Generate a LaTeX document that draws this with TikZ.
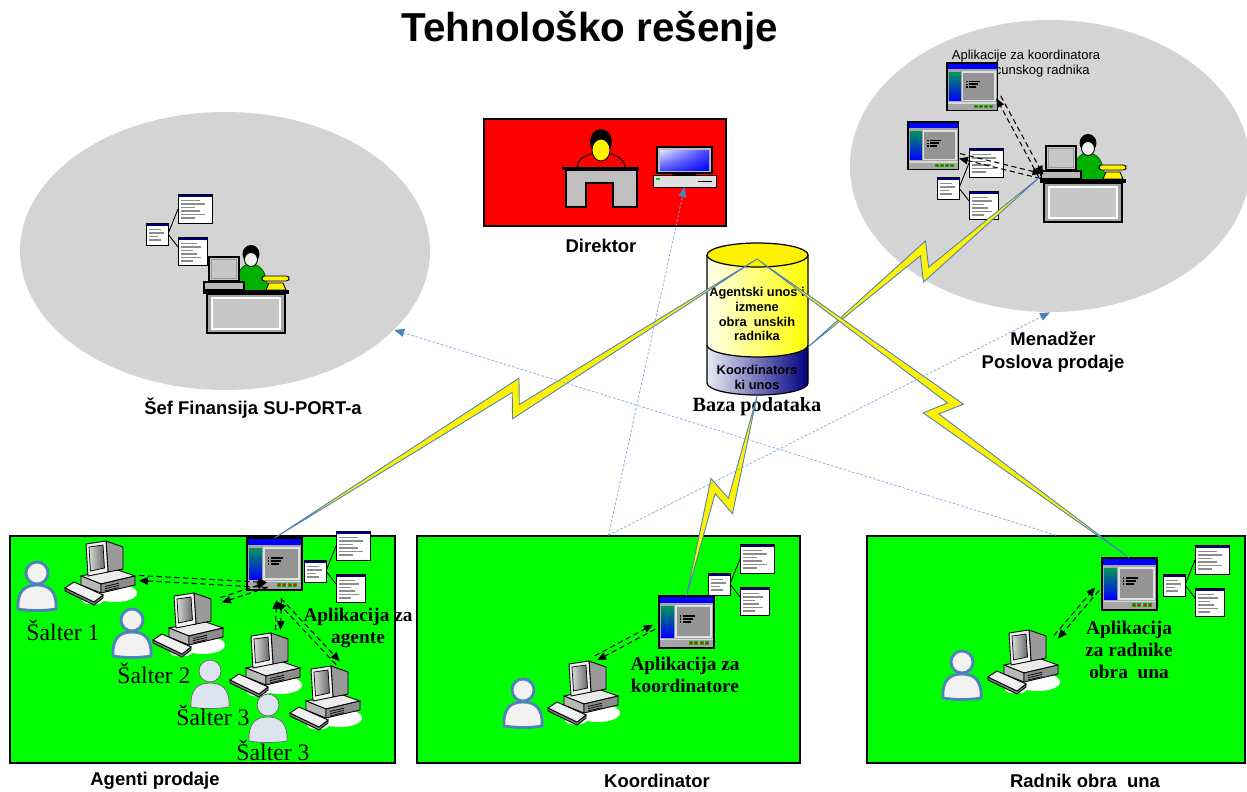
\documentclass[tikz,border=0pt]{standalone}
\usepackage{fontspec}
\setmainfont{Liberation Serif}
\setsansfont{Liberation Sans}
\usetikzlibrary{calc,shapes.geometric,arrows.meta,shadings}

\definecolor{zonegreen}{RGB}{0,255,0}
\definecolor{cloudgray}{RGB}{212,212,212}
\definecolor{linkblue}{RGB}{79,129,189}
\definecolor{dotblue}{RGB}{140,175,222}
\definecolor{navybar}{RGB}{0,0,128}
\definecolor{shirtgreen}{RGB}{0,176,0}
\definecolor{panelgreen}{RGB}{0,150,90}
\definecolor{usergray}{RGB}{242,242,242}
\definecolor{guestblue}{RGB}{220,228,240}

% x, y, width, height, rows
\newcommand{\docsheet}[5]{%
  \fill[white] (#1,#2) rectangle ++(#3,#4);
  \fill[navybar] (#1,#2) rectangle ++(#3,2.8);
  \foreach \r in {1,...,#5}
    \draw[black!45, line width=0.7pt] ($(#1,#2)+(3,3+3.5*\r)$) -- ++({#3*(0.4+0.15*mod(\r,3))},0);
  \draw[line width=0.5pt] (#1,#2) rectangle ++(#3,#4);
}

% two dashed lines, one arrow each way
\newcommand{\duplex}[2]{%
  \draw[flow] ($(#1)!0.5mm!90:(#2)$) -- ($(#2)!0.5mm!-90:(#1)$);
  \draw[flow] ($(#2)!0.5mm!90:(#1)$) -- ($(#1)!0.5mm!-90:(#2)$);
}

% zigzag link
\newcommand{\bolt}[2]{%
  \coordinate (bm) at ($(#1)!0.5!(#2)$);
  \coordinate (bf) at ($(bm)!2.6mm!(#2)$);
  \coordinate (bb) at ($(bm)!2.6mm!(#1)$);
  \filldraw[spark] (#1) -- ($(bf)!3.2mm!90:(#2)$) -- ($(bm)!1.4mm!-90:(#2)$) -- (#2)
    -- ($(bb)!3.2mm!90:(#1)$) -- ($(bm)!1.4mm!90:(#2)$) -- cycle;
}

\tikzset{
  oval/.style={ellipse, fill=cloudgray, inner sep=0pt},
  zone/.style={draw=black, line width=0.9pt, fill=zonegreen, minimum height=45.4mm, inner sep=0pt},
  lbl/.style={font=\sffamily\bfseries\fontsize{10.5}{13}\selectfont, align=center},
  applbl/.style={font=\bfseries\fontsize{11}{12.6}\selectfont, align=center},
  deskno/.style={font=\fontsize{13.5}{15}\selectfont},
  dblbl/.style={font=\sffamily\bfseries\fontsize{7.3}{8.5}\selectfont, align=center},
  flow/.style={dash pattern=on 3pt off 2pt, line width=0.6pt, -{Triangle[length=1.8mm,width=1.5mm]}},
  note/.style={draw=dotblue, line width=0.45pt, dash pattern=on 1.5pt off 1pt, -{Triangle[length=2mm,width=1.6mm,color=linkblue]}},
  spark/.style={fill=yellow, draw=linkblue, line width=0.5pt},
  user/.style={draw=linkblue, line width=1.6pt, fill=usergray},
  guest/.style={draw=black!60, line width=0.4pt, fill=guestblue},
  person/.pic={
    \path[#1] (1,49) .. controls (0,31) and (8,25) .. (20,25)
      .. controls (32,25) and (40,31) .. (39,49)
      .. controls (27,51) and (13,51) .. cycle;
    \path[#1] (20,13) circle [radius=11];
  },
  workstation/.pic={
    \fill[white] (50,55) ellipse [x radius=22, y radius=9];
    \fill[white] (28,62) ellipse [x radius=11, y radius=4.5];
    \filldraw[fill=black!8, line width=0.5pt] (16,38) -- (50,31) -- (70,38) -- (36,46) -- cycle;
    \filldraw[fill=black!28, line width=0.5pt] (16,38) -- (36,46) -- (36,55) -- (16,47) -- cycle;
    \filldraw[fill=black!45, line width=0.5pt] (36,46) -- (70,38) -- (70,47) -- (36,55) -- cycle;
    \foreach \k in {0,1,2}
      \draw[line width=0.4pt] (40,48.5+2.2*\k) -- (54,45.2+2.2*\k);
    \filldraw[fill=black!40, line width=0.5pt] (41,3) -- (58,9) -- (58,31) -- (43,34) -- cycle;
    \filldraw[fill=black!6, line width=0.5pt] (21,6) -- (41,3) -- (43,34) -- (23,38) -- cycle;
    \shadedraw[left color=black!15, right color=black!60, line width=0.4pt] (24,9) -- (38,7) -- (39.5,30) -- (25.5,33) -- cycle;
    \filldraw[fill=black!50, line width=0.5pt] (0,50) -- (0,53) -- (29,67) -- (38,60) -- (38,57) -- (29,64) -- cycle;
    \filldraw[fill=black!5, line width=0.5pt] (0,50) -- (9,44) -- (38,57) -- (29,64) -- cycle;
    \coordinate (-n) at (48,0);
    \coordinate (-ne) at (68,10);
    \coordinate (-e) at (74,40);
  },
  appwin/.pic={
    \fill[black!35] (0,0) rectangle (55,52);
    \fill[blue] (0,0) rectangle (55,7);
    \shade[top color=panelgreen, bottom color=blue] (2,10) rectangle (15,41);
    \filldraw[fill=black!42, draw=black!12, line width=0.8pt] (17,10) rectangle (52,41);
    \foreach \y/\w in {20/12,23/10,26/8} {
      \fill[black] (21,\y-0.7) rectangle ++(1.4,1.4);
      \draw[line width=0.9pt] (24,\y) -- ++(\w,0);
    }
    \draw[black!15, line width=0.6pt] (1,43.5) -- (54,43.5);
    \foreach \i in {0,...,3}
      \filldraw[fill=red, draw=green!70!black, line width=0.4pt] (30+5.5*\i,45.5) rectangle ++(3.2,3.2);
    \draw[line width=0.7pt] (0,0) rectangle (55,52);
    \coordinate (-n) at (27.5,0);
    \coordinate (-sw) at (20,47);
    \coordinate (-s) at (32,62);
    \coordinate (-w) at (-5,31);
    \coordinate (-e) at (56,37);
  },
  doctree/.pic={
    \draw[line width=0.5pt] (32,-14) -- (22,11) -- (32,24);
    \docsheet{0}{0}{22}{22}{4}
    \docsheet{32}{-29}{34}{29}{6}
    \docsheet{32}{14}{29}{28}{6}
  },
  deskman/.pic={
    \filldraw[fill=shirtgreen, draw=black!60!green, line width=0.5pt]
      (33,46) .. controls (33,25) and (40,19) .. (48,19) .. controls (56,19) and (64,25) .. (65,46) -- cycle;
    \fill[black] (48,9) ellipse [x radius=8.5, y radius=9];
    \filldraw[fill=black!6, line width=0.5pt] (48,14.5) ellipse [x radius=6.5, y radius=7];
    \filldraw[fill=black!22, line width=0.6pt] (6,12) rectangle (36,36);
    \draw[black!40, line width=0.5pt] (8.5,14.5) rectangle (33.5,33.5);
    \filldraw[fill=black!28, line width=0.6pt] (1,37) rectangle (41,45);
    \filldraw[fill=yellow, line width=0.5pt] (63,45) -- (66,38) -- (80,38) -- (83,45) -- cycle;
    \filldraw[fill=yellow, line width=0.5pt, rounded corners=1.5] (59,31) rectangle (86,36);
    \fill[black] (0,45) rectangle (86,49);
    \filldraw[fill=black!35, line width=1.6pt] (4,49) rectangle (82,88);
    \filldraw[fill=black!22, draw=white, line width=0.8pt] (9,53) rectangle (77,84);
    \coordinate (-w) at (1,42);
  },
}

\begin{document}
\begin{tikzpicture}[x=0.2mm, y=-0.2mm]
\useasboundingbox (0,0) rectangle (1247,792);

\node[font=\sffamily\bfseries\fontsize{23}{27}\selectfont] (title) at (590,31) {Tehnološko rešenje};

% areas
\node[oval, minimum width=82mm, minimum height=55.6mm] (sefcloud) at (225,251) {};
\node[oval, minimum width=80mm, minimum height=58.4mm] (mgrcloud) at (1050,166) {};
\node[draw, line width=0.8pt, fill=red, minimum width=48.4mm, minimum height=21.4mm] (dirbox) at (605,172.5) {};
\node[zone, minimum width=77mm] (abox) at (202.5,649.5) {};
\node[zone, minimum width=76.6mm] (kbox) at (608.5,649.5) {};
\node[zone, minimum width=75.6mm] (rbox) at (1056,649.5) {};

% sef finansija
\pic (sefdocs) at (146,223) {doctree};
\pic (sef) at (203,245) {deskman};

% menadzer
\node[font=\sffamily\fontsize{7.4}{8.5}\selectfont, align=center] (mgrapps) at (1026,64) {Aplikacije za koordinatora\\i obracunskog radnika};
\pic[scale=0.92] (mwin1) at (947,63) {appwin};
\pic[scale=0.92] (mwin2) at (908,122) {appwin};
\pic (mgrdocs) at (937,177) {doctree};
\pic (mgr) at (1040,134) {deskman};

% direktor
\begin{scope}[shift={(562,128)}]
  \filldraw[fill=red, line width=0.6pt] (15,41) .. controls (15,29) and (27,25) .. (39,25)
    .. controls (51,25) and (63,29) .. (63,41) -- cycle;
  \fill[black] (39,14) ellipse [x radius=11, y radius=13];
  \filldraw[fill=yellow, line width=0.5pt] (39,22) ellipse [x radius=9, y radius=11];
  \fill[black] (0,39) rectangle (77,42);
  \filldraw[fill=black!25, line width=0.7pt] (4,42) -- (75,42) -- (75,79) -- (51,79)
    -- (51,55) -- (24,55) -- (24,79) -- (4,79) -- cycle;
  \filldraw[fill=black!25, line width=0.6pt] (95,19) rectangle (150,45);
  \shade[upper left=blue!10, upper right=blue!75, lower left=blue!70, lower right=blue] (98,22) rectangle (147,42);
  \fill[black] (111,45) rectangle (134,47.5);
  \filldraw[fill=black!12, line width=0.5pt] (91,47.5) rectangle (154,59);
  \fill[green!80!black] (94,50) rectangle (98,52);
  \draw[line width=0.8pt] (136,53.5) -- (150,53.5);
  \coordinate (dirpc) at (122.5,59);
\end{scope}

% baza podataka
\shade[left color=navybar!8, right color=navybar] (707,345) -- (707,383)
  arc[start angle=180, end angle=0, x radius=50.5, y radius=12] -- (808,345)
  arc[start angle=0, end angle=180, x radius=50.5, y radius=12] -- cycle;
\shade[left color=yellow!8, right color=yellow] (707,255) -- (707,345)
  arc[start angle=180, end angle=0, x radius=50.5, y radius=12] -- (808,255)
  arc[start angle=0, end angle=180, x radius=50.5, y radius=12] -- cycle;
\filldraw[fill=yellow, line width=0.7pt] (757.5,255) ellipse [x radius=50.5, y radius=12];
\draw[line width=0.7pt] (707,255) -- (707,383)
  arc[start angle=180, end angle=0, x radius=50.5, y radius=12] -- (808,255);
\draw[line width=0.7pt] (707,345) arc[start angle=180, end angle=0, x radius=50.5, y radius=12];
\node[dblbl] (dbup) at (757,314) {Agentski unos i\\izmene\\obra\ \ unskih\\radnika};
\node[dblbl] (dbdown) at (757,377) {Koordinators\\ki unos};
\node[font=\bfseries\fontsize{11.5}{13}\selectfont] (dbname) at (757,407) {Baza podataka};
\coordinate (dbtop) at (757,259);
\coordinate (dbbot) at (757,396);
\coordinate (dbeast) at (808,347);

% agenti prodaje
\pic (aapp) at (247,538) {appwin};
\pic (adocs) at (304,560) {doctree};
\pic (pc1) at (65,538) {workstation};
\pic (pc2) at (153,590) {workstation};
\pic (pc3) at (230,630) {workstation};
\pic (pc4) at (290,663) {workstation};
\pic (u1) at (17,560) {person=user};
\pic (u2) at (112,607) {person=user};
\pic (u3) at (190,658) {person=guest};
\pic (u4) at (248,692) {person=guest};
\node[deskno] (s1) at (63,630) {Šalter 1};
\node[deskno] (s2) at (154,673) {Šalter 2};
\node[deskno] (s3) at (213,715) {Šalter 3};
\node[deskno] (s4) at (273,750) {Šalter 3};
\node[applbl] (alabel) at (358,628) {Aplikacija za\\agente};

% koordinator
\pic (kapp) at (659,596) {appwin};
\pic (kdocs) at (708,573) {doctree};
\pic (kpc) at (548,658) {workstation};
\pic (ku) at (503,677) {person=user};
\node[applbl] (klabel) at (685,675) {Aplikacija za\\koordinatore};

% radnik
\pic (rapp) at (1102,558) {appwin};
\pic (rdocs) at (1163,574) {doctree};
\pic (rpc) at (988,627) {workstation};
\pic (ru) at (942,649) {person=user};
\node[applbl] (rlabel) at (1129,650) {Aplikacija\\za radnike\\obra\ \ una};

% names
\node[lbl] (sefname) at (253,408) {Šef Finansija SU-PORT-a};
\node[lbl] (dirname) at (601,246) {Direktor};
\node[lbl] (mgrname) at (1053,352) {Menadžer\\Poslova prodaje};
\node[lbl] (agname) at (155,781) {Agenti prodaje};
\node[lbl] (koname) at (657,781) {Koordinator};
\node[lbl] (raname) at (1085,781) {Radnik obra\ \ una};

% local traffic
\duplex{pc1-e}{aapp-sw}
\duplex{pc2-ne}{aapp-sw}
\duplex{pc3-n}{aapp-s}
\duplex{pc4-n}{aapp-s}
\duplex{kpc-n}{kapp-w}
\duplex{rpc-ne}{rapp-w}
\duplex{mwin1-e}{mgr-w}
\duplex{mwin2-e}{mgr-w}

% links to the database
\bolt{aapp-n}{dbtop}
\bolt{dbeast}{mgr-w}
\bolt{dbtop}{rapp-n}
\bolt{dbbot}{kapp-n}

\draw[note] (kbox.north) -- (dirpc);
\draw[note] (kbox.north) -- (mgrcloud.south);
\draw[note] (rbox.north) -- (sefcloud.-25);

\end{tikzpicture}
\end{document}
